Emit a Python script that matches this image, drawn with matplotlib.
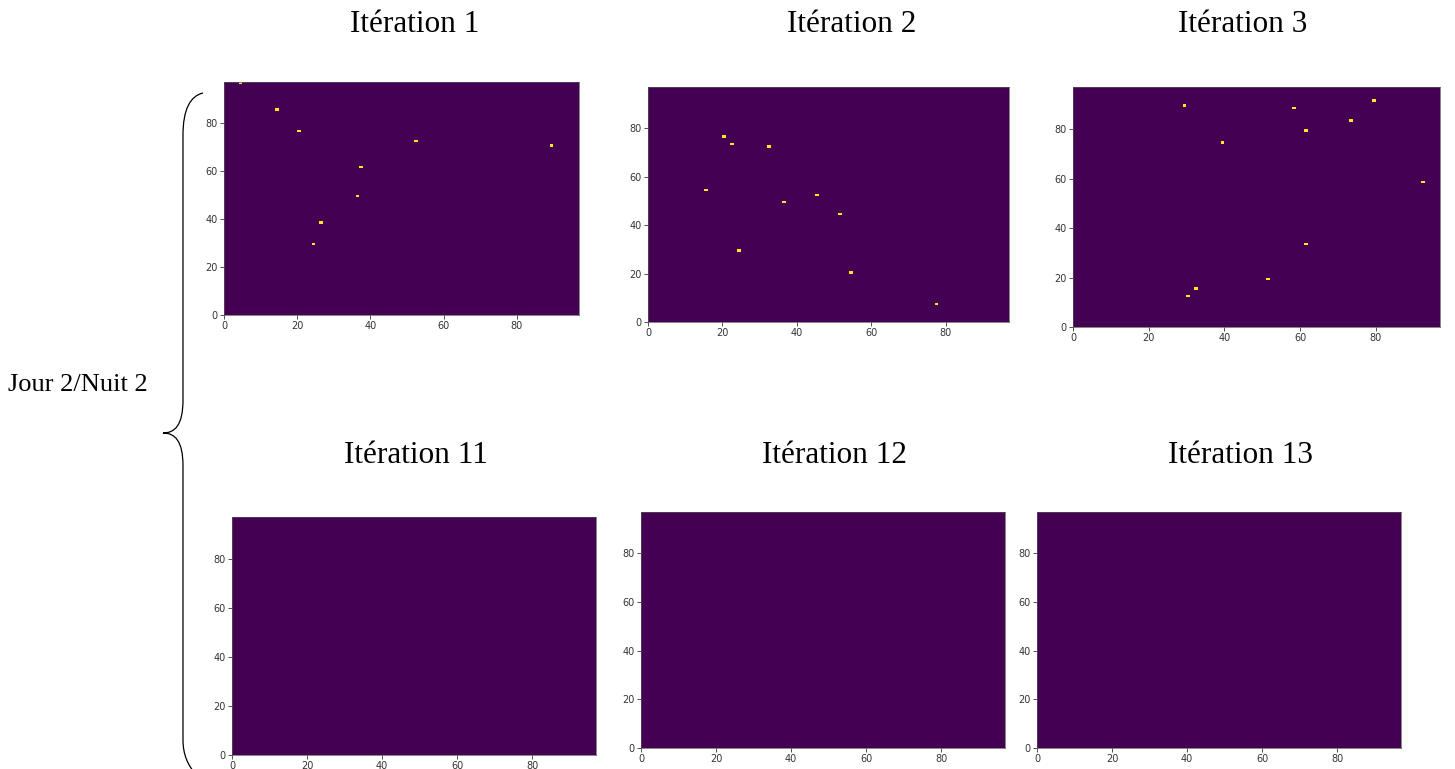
import numpy as np
import matplotlib
matplotlib.use("Agg")
import matplotlib.pyplot as plt
from matplotlib.path import Path
from matplotlib.patches import PathPatch

GRID = 97
titles = ["Itération 1", "Itération 2", "Itération 3",
          "Itération 11", "Itération 12", "Itération 13"]

it1_x = [4, 14, 20, 52, 89, 37, 36, 26, 24]
it1_y = [96, 85, 76, 72, 70, 61, 49, 38, 29]
it2_x = [20, 22, 32, 15, 36, 45, 51, 24, 54, 77]
it2_y = [76, 73, 72, 54, 49, 52, 44, 29, 20, 7]
it3_x = [29, 58, 79, 73, 61, 39, 92, 61, 51, 32, 30]
it3_y = [89, 88, 91, 83, 79, 74, 58, 33, 19, 15, 12]
it11_x, it11_y = [], []
it12_x, it12_y = [], []
it13_x, it13_y = [], []

series = [(it1_x, it1_y), (it2_x, it2_y), (it3_x, it3_y),
          (it11_x, it11_y), (it12_x, it12_y), (it13_x, it13_y)]

W, H = 1455, 769
fig = plt.figure(figsize=(W / 100, H / 100), dpi=100)

# axes boxes in pixels: left, right, top, bottom
boxes = [(224, 579, 82, 315), (648, 1009, 87, 322), (1073, 1440, 87, 327),
         (232, 596, 517, 755), (641, 1005, 512, 748), (1037, 1401, 512, 748)]
title_pos = [(415, 25), (852, 25), (1243, 25), (416, 455), (835, 455), (1241, 455)]

for (xs, ys), (l, r, t, b), title, (tx, ty) in zip(series, boxes, titles, title_pos):
    ax = fig.add_axes([l / W, 1 - b / H, (r - l) / W, (b - t) / H])
    grid = np.zeros((GRID, GRID))
    for x, y in zip(xs, ys):
        grid[y, x] = 1
    ax.imshow(grid, cmap="viridis", vmin=0, vmax=1, origin="lower",
              extent=[0, GRID, 0, GRID], aspect="auto", interpolation="nearest")
    ax.set_xticks([0, 20, 40, 60, 80])
    ax.set_yticks([0, 20, 40, 60, 80])
    ax.tick_params(labelsize=7, length=3, width=0.6, pad=1.5, colors="#333333")
    for s in ax.spines.values():
        s.set_linewidth(0.5)
        s.set_color("#555555")
    fig.text(tx / W, 1 - ty / H, title, family="Liberation Serif", fontsize=22.5,
             ha="center", va="center")

fig.text(78 / W, 1 - 385 / H, "Jour 2/Nuit 2", family="Liberation Serif",
         fontsize=19, ha="center", va="center")

# curly brace in pixel coordinates
def P(x, y):
    return (x / W, 1 - y / H)

verts = [P(203, 93), P(190, 96), P(183, 110), P(183, 135),
         P(183, 400),
         P(183, 425), P(175, 433), P(163, 433),
         P(175, 433), P(183, 441), P(183, 466),
         P(183, 740),
         P(183, 755), P(188, 765), P(196, 775)]
codes = [Path.MOVETO, Path.CURVE4, Path.CURVE4, Path.CURVE4,
         Path.LINETO,
         Path.CURVE4, Path.CURVE4, Path.CURVE4,
         Path.CURVE4, Path.CURVE4, Path.CURVE4,
         Path.LINETO,
         Path.CURVE4, Path.CURVE4, Path.CURVE4]
brace = PathPatch(Path(verts, codes), transform=fig.transFigure,
                  fill=False, lw=0.9, edgecolor="black")
fig.patches.append(brace)

fig.savefig("out.png", dpi=100)
